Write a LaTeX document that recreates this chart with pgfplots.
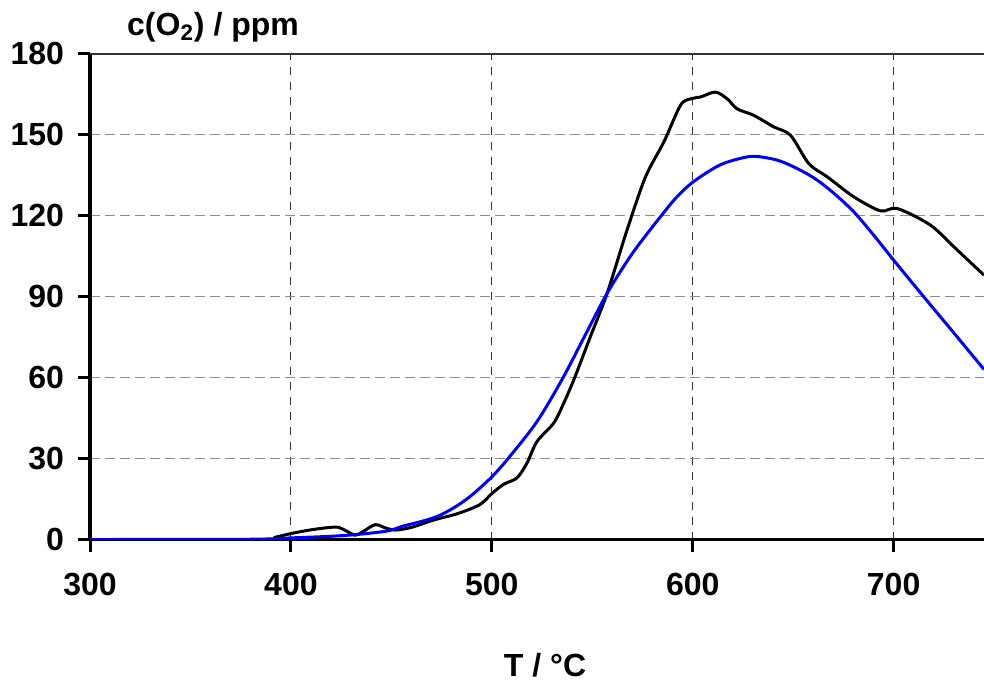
\documentclass[border=0pt]{standalone}
\usepackage{pgfplots}
\pgfplotsset{compat=1.18}
\usepackage{fontspec}
\setmainfont{Liberation Sans}
\pgfplotstableread{
x y
300 0
385 0
392 0.8
400 2.2
411 3.7
422 4.6
426 3.8
432 1.6
436 3.0
442 5.5
447 4.3
452 3.5
460 4.5
471 7.2
483 9.6
494 12.9
500 17.0
506 20.5
512.5 22.8
517.5 28.3
522.5 36.3
530.8 43.1
535.8 50.5
541 59.5
549 75
557.4 91.2
567.3 114.6
576.5 134.3
585.6 147.2
593.9 160.8
598.9 163.2
603.9 163.9
611.3 165.7
617.2 163.2
622.1 159.5
630.4 157.1
640.4 152.8
648.7 149.7
657.8 139.2
667 134.3
680.2 126.9
693.5 121.7
701.8 122.6
718.4 116.4
731.7 107.2
745 97.9
}\measured
\pgfplotstableread{
x y
300 0
380 0.1
400 0.6
420 1.2
432 1.8
440 2.4
449 3.3
456 5.0
465 6.7
473 8.6
481 11.7
489.3 16.0
500 23.2
509 30.8
522.5 43.7
535 59.3
546 75
557.4 91.2
570 106
583.9 119.5
592 126.8
600.5 132.6
613.8 138.8
627 141.7
634 141.7
643 140.3
652 137.4
661 133.6
670 128.4
680 121.5
690 112.8
700 103.5
715 89.9
730 76.5
745 63.0
}\model
\begin{document}
\begin{tikzpicture}
\begin{axis}[
  scale only axis,
  width=447pt, height=243pt,
  xmin=300, xmax=745, ymin=0, ymax=180,
  axis lines=left,
  axis line style={-, line width=1.75pt, black},
  xtick={300,400,500,600,700},
  ytick={0,30,60,90,120,150,180},
  tick align=outside,
  major tick length=6pt,
  tick style={black, line width=1.5pt},
  xmajorgrids, ymajorgrids,
  x grid style={black!80, line width=0.5pt, dash pattern=on 4pt off 3.5pt},
  y grid style={black!45, line width=0.6pt, dash pattern=on 5pt off 2.5pt},
  tick label style={font=\bfseries\fontsize{16}{19}\selectfont},
  /pgf/number format/assume math mode=true,
  yticklabel style={xshift=-3.5pt},
  xticklabel style={yshift=-7.5pt},
  clip mode=individual,
]
\draw[black!80, line width=1pt] (rel axis cs:0,1) -- (rel axis cs:1,1);
\addplot[black, line width=1.5pt, smooth, tension=0.5] table {\measured};
\addplot[blue, line width=1.5pt, smooth, tension=0.5] table {\model};
\node[anchor=base, font=\bfseries\fontsize{16}{19}\selectfont] at (rel axis cs:0.1376,1.038) {c(O\textsubscript{2}) / ppm};
\node[font=\bfseries\fontsize{16}{19}\selectfont] at (rel axis cs:0.509,-0.2577) {T / °C};
\end{axis}
\pgfresetboundingbox
\path (-45pt,-71.25pt) rectangle (447pt,269.75pt);
\end{tikzpicture}
\end{document}
